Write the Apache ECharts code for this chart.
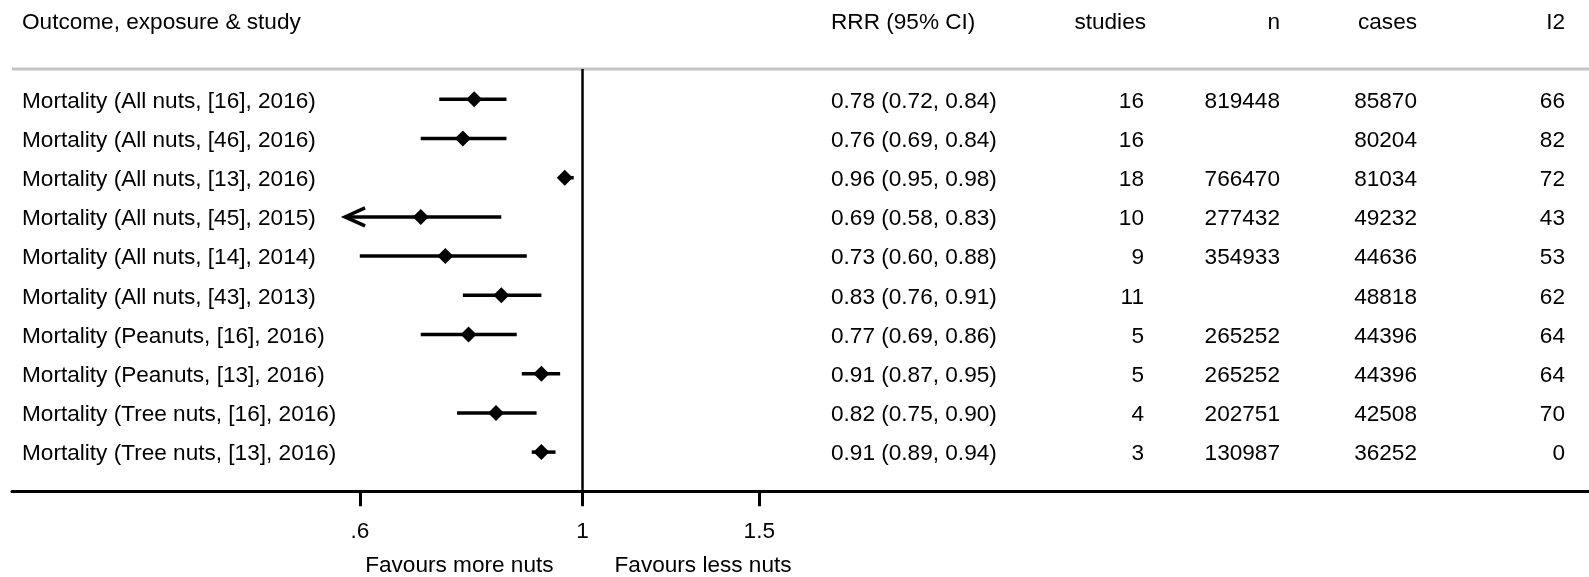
<!DOCTYPE html>
<html>
<head>
<meta charset="utf-8">
<script src="https://cdn.jsdelivr.net/npm/echarts@6/dist/echarts.min.js"></script>
<style>
  html, body { margin: 0; padding: 0; background: #ffffff; }
  #chart { width: 1589px; height: 577px; }
</style>
</head>
<body>
<div id="chart"></div>
<script>
// ---- data ----
const studyLabels = [
  'Mortality (All nuts, [16], 2016)',
  'Mortality (All nuts, [46], 2016)',
  'Mortality (All nuts, [13], 2016)',
  'Mortality (All nuts, [45], 2015)',
  'Mortality (All nuts, [14], 2014)',
  'Mortality (All nuts, [43], 2013)',
  'Mortality (Peanuts, [16], 2016)',
  'Mortality (Peanuts, [13], 2016)',
  'Mortality (Tree nuts, [16], 2016)',
  'Mortality (Tree nuts, [13], 2016)'
];
const rrr    = [0.78, 0.76, 0.96, 0.69, 0.73, 0.83, 0.77, 0.91, 0.82, 0.91];
const ciLow  = [0.72, 0.69, 0.95, 0.58, 0.60, 0.76, 0.69, 0.87, 0.75, 0.89];
const ciHigh = [0.84, 0.84, 0.98, 0.83, 0.88, 0.91, 0.86, 0.95, 0.90, 0.94];
const nStudies = [16, 16, 18, 10, 9, 11, 5, 5, 4, 3];
const participants = [819448, null, 766470, 277432, 354933, null, 265252, 265252, 202751, 130987];
const caseCounts = [85870, 80204, 81034, 49232, 44636, 48818, 44396, 44396, 42508, 36252];
const i2 = [66, 82, 72, 43, 53, 62, 64, 64, 70, 0];
const xTickValues = [0.6, 1, 1.5];
const columnHeaders = ['Outcome, exposure & study', 'RRR (95% CI)', 'studies', 'n', 'cases', 'I2'];
const favourLabels = ['Favours more nuts', 'Favours less nuts'];

// ---- layout ----
const FONT_FAMILY = '"Liberation Sans", Arial, Helvetica, sans-serif';
const FONT_SIZE = 22.6;
const TEXT_COLOR = '#000000';
const TEXT_DY = 2;
// column anchors in pixels: [header x, value x, align]
const columns = [
  [22, 22, 'left'],
  [831, 831, 'left'],
  [1146, 1144, 'right'],
  [1280, 1280, 'right'],
  [1417, 1417, 'right'],
  [1565, 1565, 'right']
];
const RULE_Y = 69;

const fmt2 = v => v.toFixed(2);
const tickText = v => {
  const s = String(Math.round(v * 100) / 100);
  return s.replace(/^0\./, '.');
};

const rows = studyLabels.map((_, i) => i + 1);

const chart = echarts.init(document.getElementById('chart'), null, { renderer: 'canvas' });

const logTicks = xTickValues.map(v => Math.log(v));

chart.setOption({
  animation: false,
  backgroundColor: '#ffffff',
  grid: { left: 12, right: 0, top: 60.1, bottom: 85.7, containLabel: false },
  xAxis: {
    type: 'value',
    position: 'bottom',
    min: Math.log(0.2702),
    max: Math.log(10.06),
    splitLine: { show: false },
    axisLine: { show: true, onZero: false, lineStyle: { color: '#000', width: 3 } },
    axisTick: { show: true, customValues: logTicks, length: 15, lineStyle: { color: '#000', width: 3 } },
    axisLabel: {
      show: true,
      customValues: logTicks,
      margin: 29,
      color: TEXT_COLOR,
      fontSize: FONT_SIZE,
      fontFamily: FONT_FAMILY,
      formatter: v => tickText(Math.exp(v))
    }
  },
  yAxis: {
    type: 'value',
    inverse: true,
    min: 0,
    max: 11,
    show: false
  },
  series: [
    {
      type: 'custom',
      name: 'ci',
      data: rows.map((r, i) => [Math.log(ciLow[i]), Math.log(ciHigh[i]), r]),
      encode: { x: [0, 1], y: 2 },
      renderItem: (params, api) => {
        const lo = api.value(0), hi = api.value(1), r = api.value(2);
        const p0 = api.coord([lo, r]);
        const p1 = api.coord([hi, r]);
        const children = [{
          type: 'line',
          shape: { x1: p0[0], y1: p0[1], x2: p1[0], y2: p1[1] },
          style: { stroke: '#000', lineWidth: 3.5 }
        }];
        if (lo < logTicks[0]) {
          children.push({
            type: 'polyline',
            shape: { points: [[p0[0] + 20, p0[1] - 9], [p0[0], p0[1]], [p0[0] + 20, p0[1] + 9]] },
            style: { stroke: '#000', lineWidth: 3.5, fill: null }
          });
        }
        return { type: 'group', children };
      },
      z: 2
    },
    {
      type: 'scatter',
      name: 'rrr',
      data: rows.map((r, i) => [Math.log(rrr[i]), r]),
      symbol: 'diamond',
      symbolSize: 16,
      itemStyle: { color: '#000', opacity: 1 },
      emphasis: { disabled: true },
      z: 3
    }
  ]
});

// table text and reference rules placed against the axes
const px = v => chart.convertToPixel({ xAxisIndex: 0 }, v);
const py = v => chart.convertToPixel({ yAxisIndex: 0 }, v);

const textEl = (x, y, text, align) => ({
  type: 'text',
  x, y: y + TEXT_DY,
  silent: true,
  style: {
    text: String(text),
    fill: TEXT_COLOR,
    fontSize: FONT_SIZE,
    fontFamily: FONT_FAMILY,
    align,
    verticalAlign: 'middle'
  }
});

const graphics = [];
const hy = py(-1);
columnHeaders.forEach((h, c) => graphics.push(textEl(columns[c][0], hy, h, columns[c][2])));

rows.forEach((r, i) => {
  const y = py(r);
  const cells = [
    studyLabels[i],
    `${fmt2(rrr[i])} (${fmt2(ciLow[i])}, ${fmt2(ciHigh[i])})`,
    nStudies[i],
    participants[i] == null ? '' : participants[i],
    caseCounts[i],
    i2[i]
  ];
  cells.forEach((t, c) => {
    if (t !== '') graphics.push(textEl(columns[c][1], y, t, columns[c][2]));
  });
});

// light rule under the header
graphics.push({
  type: 'line', silent: true,
  shape: { x1: 12, y1: RULE_Y, x2: 1589, y2: RULE_Y },
  style: { stroke: '#c4c4c4', lineWidth: 3 }
});
// line of no effect
const x1 = px(0);
graphics.push({
  type: 'line', silent: true,
  shape: { x1: x1, y1: RULE_Y, x2: x1, y2: py(11) },
  style: { stroke: '#000', lineWidth: 2.5 }
});
// direction captions
graphics.push(textEl(x1 - 29, 563.5, favourLabels[0], 'right'));
graphics.push(textEl(x1 + 32, 563.5, favourLabels[1], 'left'));

chart.setOption({ graphic: graphics });
</script>
</body>
</html>
